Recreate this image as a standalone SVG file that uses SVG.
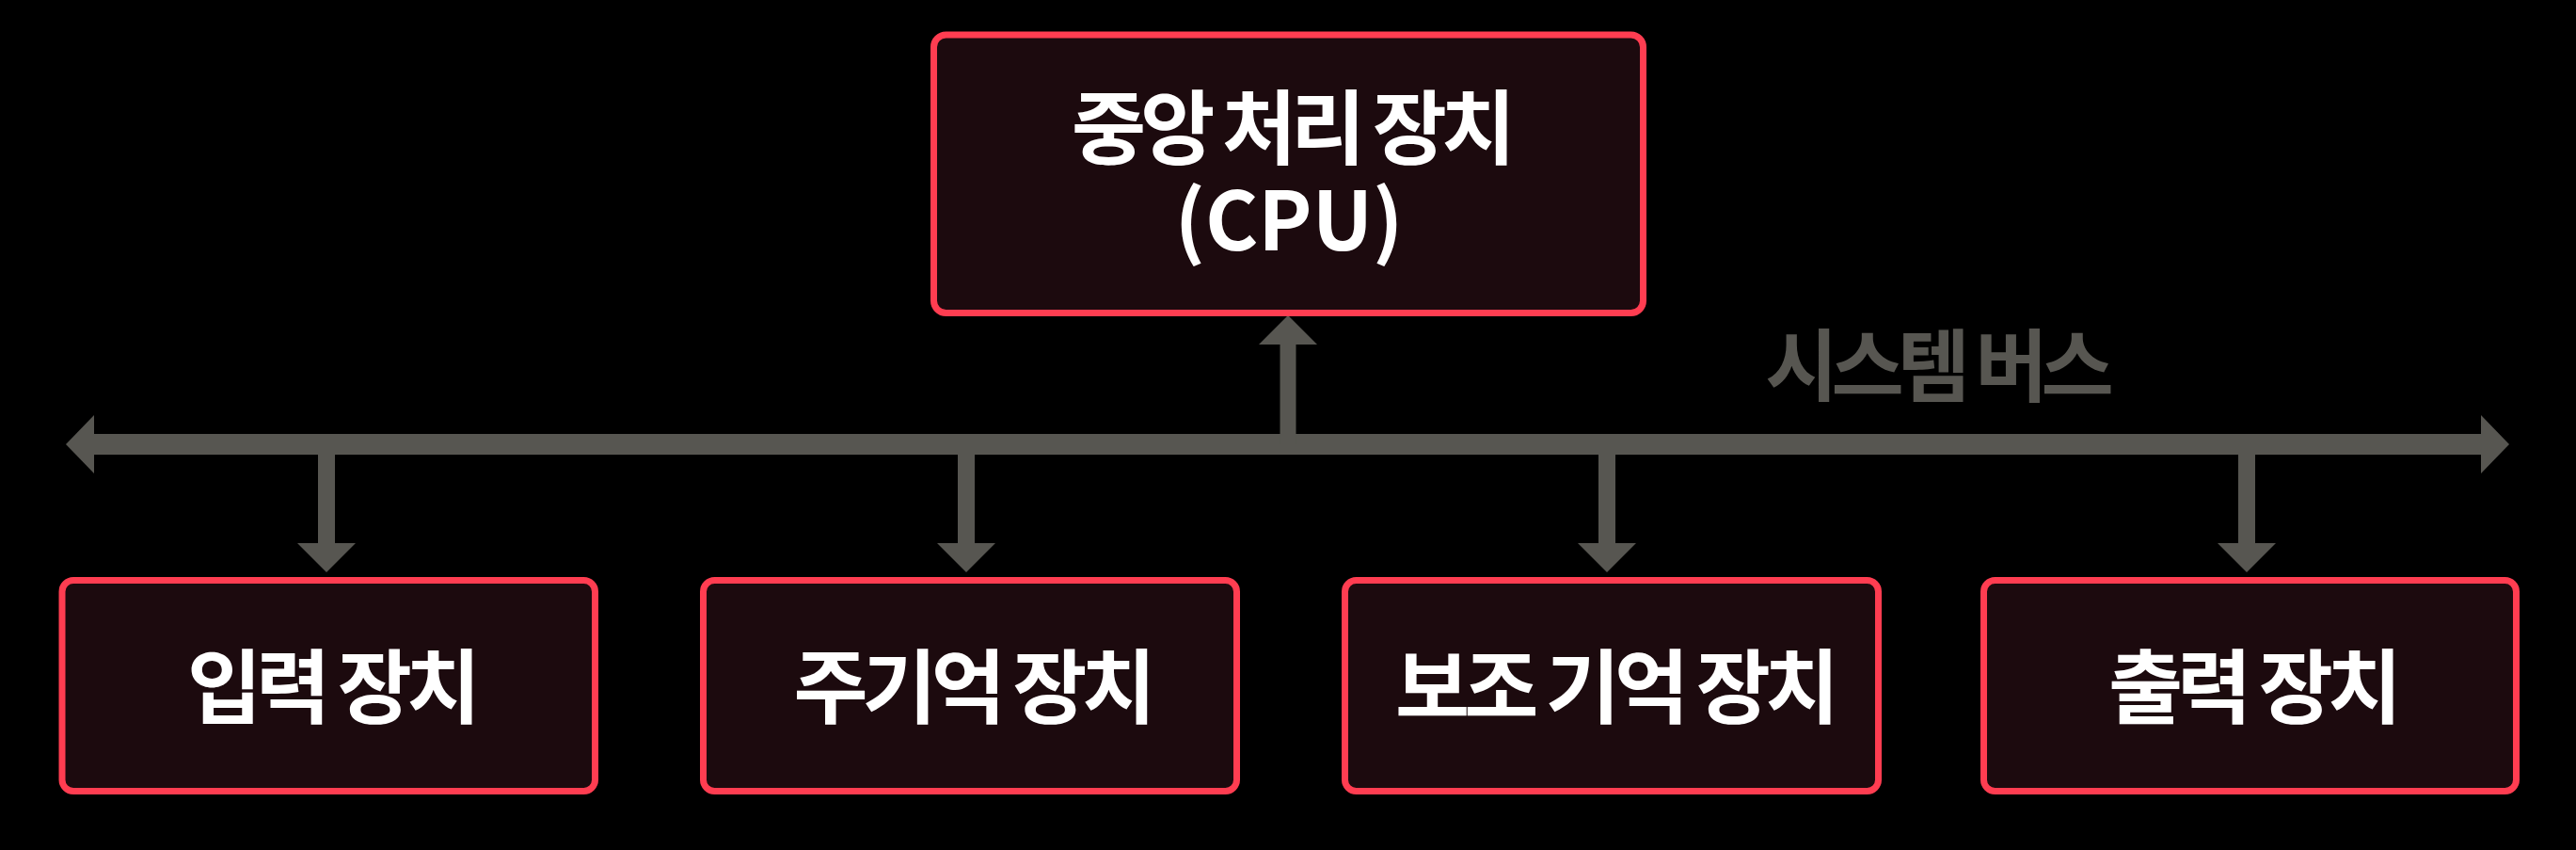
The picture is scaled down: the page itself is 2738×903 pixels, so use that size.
<svg xmlns="http://www.w3.org/2000/svg" width="2738" height="903" viewBox="0 0 2738 903">
  <style>
    .box { fill: #1c0a0e; stroke: #ff3d51; stroke-width: 7; }
    .lbl { font-family: "Noto Sans CJK KR", "Noto Sans", sans-serif; font-weight: 700; font-size: 86px; fill: #ffffff; text-anchor: middle; letter-spacing: -6px; }
    .bus { fill: none; stroke: #575651; stroke-linecap: butt; }
    .buslbl { font-family: "Noto Sans CJK KR", "Noto Sans", sans-serif; font-weight: 700; font-size: 84px; fill: #575651; text-anchor: middle; letter-spacing: -7px; }
  </style>
  <defs>
    <marker id="ah" viewBox="0 0 30 62" refX="0" refY="31" markerWidth="30" markerHeight="62" markerUnits="userSpaceOnUse" orient="auto-start-reverse">
      <path d="M0,0 L30,31 L0,62 Z" fill="#575651"/>
    </marker>
    <marker id="ahs" viewBox="0 0 31 62" refX="0" refY="31" markerWidth="31" markerHeight="62" markerUnits="userSpaceOnUse" orient="auto">
      <path d="M0,0 L31,31 L0,62 Z" fill="#575651"/>
    </marker>
  </defs>
  <rect width="2738" height="903" fill="#000000"/>

  <g id="connectors">
    <line class="bus" x1="100" y1="472" x2="2637" y2="472" stroke-width="22" marker-start="url(#ah)" marker-end="url(#ah)"/>
    <line class="bus" x1="1369" y1="472" x2="1369" y2="366" stroke-width="17" marker-end="url(#ahs)"/>
    <line class="bus" x1="347" y1="472" x2="347" y2="577" stroke-width="18" marker-end="url(#ahs)"/>
    <line class="bus" x1="1027" y1="472" x2="1027" y2="577" stroke-width="18" marker-end="url(#ahs)"/>
    <line class="bus" x1="1708" y1="472" x2="1708" y2="577" stroke-width="18" marker-end="url(#ahs)"/>
    <line class="bus" x1="2388" y1="472" x2="2388" y2="577" stroke-width="18" marker-end="url(#ahs)"/>
    <text class="buslbl" x="2058" y="420">시스템 버스</text>
  </g>

  <g id="cpu">
    <rect class="box" x="992.5" y="37" width="754" height="295.5" rx="13"/>
    <text class="lbl"><tspan x="1372" y="168">중앙 처리 장치</tspan><tspan x="1370" y="266" style="letter-spacing:0">(CPU)</tspan></text>
  </g>

  <g id="input">
    <rect class="box" x="66" y="616.5" width="566.5" height="224" rx="12"/>
    <text class="lbl" x="352" y="762">입력 장치</text>
  </g>

  <g id="main-memory">
    <rect class="box" x="747.5" y="616.5" width="567" height="224" rx="12"/>
    <text class="lbl" x="1033" y="762">주기억 장치</text>
  </g>

  <g id="secondary-storage">
    <rect class="box" x="1429.5" y="616.5" width="567" height="224" rx="12"/>
    <text class="lbl" x="1716" y="762">보조 기억 장치</text>
  </g>

  <g id="output">
    <rect class="box" x="2108.5" y="616.5" width="566" height="224" rx="12"/>
    <text class="lbl" x="2394" y="762">출력 장치</text>
  </g>
</svg>
